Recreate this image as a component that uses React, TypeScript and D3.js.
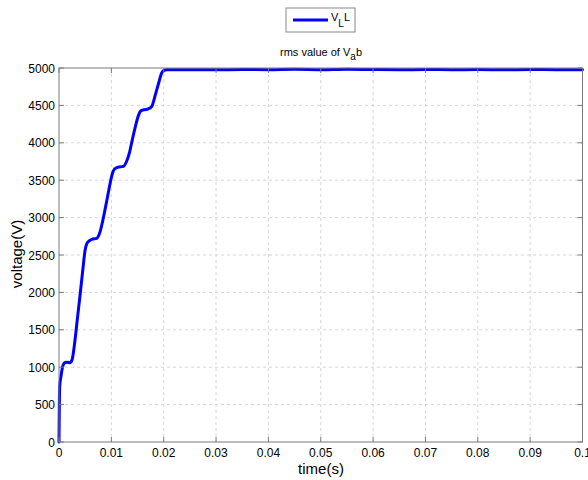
import React from "react";
import * as d3 from "d3";

// rms line-to-line voltage, sampled along the ramp-up and the steady state
const timeS = [
  0, 0.00005, 0.00013, 0.00038, 0.0008, 0.0012, 0.0016, 0.0021, 0.0025, 0.003,
  0.0035, 0.004, 0.0045, 0.005, 0.0053, 0.0057, 0.0063, 0.0072, 0.0078, 0.0083,
  0.0088, 0.0093, 0.0098, 0.0102, 0.0106, 0.0113, 0.0123, 0.0129, 0.0135, 0.014,
  0.0146, 0.0152, 0.0156, 0.0162, 0.017, 0.0177, 0.0184, 0.019, 0.0196, 0.0201,
  0.0206, 0.025, 0.03, 0.035, 0.04, 0.045, 0.05, 0.055, 0.06, 0.065,
  0.07, 0.075, 0.08, 0.085, 0.09, 0.095, 0.1,
];
const voltageV = [
  0, 400, 740, 880, 1030, 1062, 1066, 1060, 1100, 1330,
  1640, 1950, 2270, 2570, 2650, 2685, 2710, 2723, 2800, 2940,
  3110, 3290, 3470, 3590, 3650, 3675, 3685, 3750, 3880, 4040,
  4220, 4370, 4425, 4442, 4452, 4485, 4640, 4790, 4930, 4970,
  4976, 4978, 4976, 4980, 4977, 4982, 4978, 4984, 4979, 4976,
  4980, 4977, 4979, 4976, 4980, 4977, 4978,
];

const xTicks = [0, 0.01, 0.02, 0.03, 0.04, 0.05, 0.06, 0.07, 0.08, 0.09, 0.1];
const xTickLabels = ["0", "0.01", "0.02", "0.03", "0.04", "0.05", "0.06", "0.07", "0.08", "0.09", "0.1"];
const yTicks = [0, 500, 1000, 1500, 2000, 2500, 3000, 3500, 4000, 4500, 5000];

const W = 588;
const H = 480;
const left = 59;
const right = 582.5;
const top = 68;
const bottom = 442;
const font = "'Liberation Sans', Arial, Helvetica, sans-serif";

export default function App() {
  const x = d3.scaleLinear().domain([0, 0.1]).range([left, right]);
  const y = d3.scaleLinear().domain([0, 5000]).range([bottom, top]);
  const pts: [number, number][] = timeS.map((t, i) => [t, voltageV[i]]);
  const line = d3
    .line<[number, number]>()
    .x((d) => x(d[0]))
    .y((d) => y(d[1]))
    .curve(d3.curveMonotoneX);

  const axisColor = "#7a7a7a";
  const gridColor = "#d6d6d6";
  const tickLen = 5;

  return (
    <svg
      width={W}
      height={H}
      style={{ position: "absolute", left: 0, top: 0, background: "#fff" }}
    >
      <rect x={0} y={0} width={W} height={H} fill="#fff" />

      {/* grid */}
      {xTicks.slice(1, -1).map((t) => (
        <line key={"gx" + t} x1={x(t)} x2={x(t)} y1={top} y2={bottom}
          stroke={gridColor} strokeWidth={1} strokeDasharray="3,3" />
      ))}
      {yTicks.slice(1, -1).map((v) => (
        <line key={"gy" + v} x1={left} x2={right} y1={y(v)} y2={y(v)}
          stroke={gridColor} strokeWidth={1} strokeDasharray="3,3" />
      ))}

      {/* data */}
      <path d={line(pts) || ""} fill="none" stroke="#0000ff" strokeWidth={3}
        strokeLinejoin="round" strokeLinecap="round" />

      {/* axes box */}
      <rect x={left} y={top} width={right - left} height={bottom - top}
        fill="none" stroke={axisColor} strokeWidth={1} />

      {/* ticks */}
      {xTicks.map((t, i) => (
        <g key={"xt" + t}>
          <line x1={x(t)} x2={x(t)} y1={bottom} y2={bottom - tickLen} stroke={axisColor} />
          <line x1={x(t)} x2={x(t)} y1={top} y2={top + tickLen} stroke={axisColor} />
          <text x={x(t)} y={457} textAnchor="middle" fontFamily={font} fontSize={12} fill="#000">
            {xTickLabels[i]}
          </text>
        </g>
      ))}
      {yTicks.map((v) => (
        <g key={"yt" + v}>
          <line x1={left} x2={left + tickLen} y1={y(v)} y2={y(v)} stroke={axisColor} />
          <line x1={right} x2={right - tickLen} y1={y(v)} y2={y(v)} stroke={axisColor} />
          <text x={55} y={y(v) + 4.5} textAnchor="end" fontFamily={font} fontSize={12} fill="#000">
            {v}
          </text>
        </g>
      ))}

      {/* axis labels */}
      <text x={321} y={474} textAnchor="middle" fontFamily={font} fontSize={15} fill="#000">
        time(s)
      </text>
      <text transform="translate(22,254) rotate(-90)" textAnchor="middle"
        fontFamily={font} fontSize={15} fill="#000">
        voltage(V)
      </text>

      {/* title */}
      <text x={280} y={56} fontFamily={font} fontSize={11} fill="#000">
        rms value of V
        <tspan dy={4} fontSize={10}>a</tspan>
        <tspan dy={-4}>b</tspan>
      </text>

      {/* legend */}
      <rect x={286} y={8} width={69} height={24} fill="#fff" stroke="#888" strokeWidth={1} />
      <line x1={293} x2={328} y1={20} y2={20} stroke="#0000ff" strokeWidth={3} />
      <text x={331} y={21} fontFamily={font} fontSize={11} fill="#000">
        V
        <tspan dy={6} fontSize={10}>L</tspan>
        <tspan dy={-6}>L</tspan>
      </text>
    </svg>
  );
}
